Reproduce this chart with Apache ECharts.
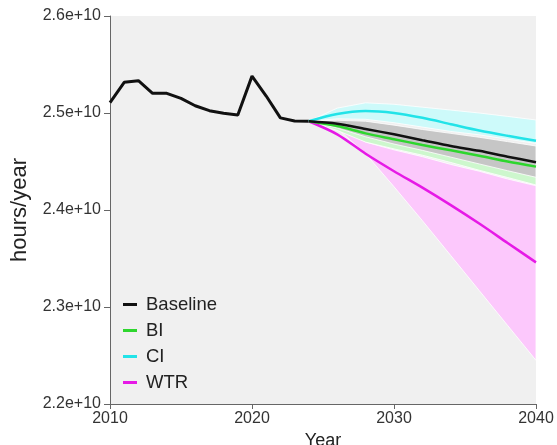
<!DOCTYPE html>
<html>
<head>
<meta charset="utf-8">
<script src="https://cdn.jsdelivr.net/npm/echarts@6/dist/echarts.min.js"></script>
<style>
  html, body { margin: 0; padding: 0; background: #fff; }
  #myChart { width: 557px; height: 445px; }
</style>
</head>
<body>
<div id="myChart"></div>
<script>
// values in units of 1e10 hours/year
var histYears = [2010, 2011, 2012, 2013, 2014, 2015, 2016, 2017, 2018, 2019, 2020, 2021, 2022, 2023, 2024];
var baselineHist = [2.5106, 2.5316, 2.5333, 2.5203, 2.5203, 2.515, 2.5075, 2.5024, 2.4997, 2.498, 2.538, 2.5175, 2.495, 2.4918, 2.4915];

var projYears = [2024, 2026, 2028, 2030, 2032, 2034, 2036, 2038, 2040];
var baselineProj = [2.4915, 2.489, 2.4835, 2.478, 2.472, 2.466, 2.461, 2.455, 2.4492];
var baselineLo = [2.4915, 2.4845, 2.4755, 2.468, 2.4615, 2.4545, 2.4475, 2.4405, 2.4337];
var baselineHi = [2.4915, 2.4925, 2.4915, 2.4875, 2.483, 2.479, 2.475, 2.4705, 2.466];

var biProj = [2.4915, 2.4865, 2.479, 2.473, 2.467, 2.4615, 2.456, 2.450, 2.4447];
var biLo = [2.4915, 2.482, 2.470, 2.463, 2.4565, 2.449, 2.441, 2.4335, 2.4258];
var biHi = [2.4915, 2.490, 2.487, 2.482, 2.477, 2.472, 2.467, 2.462, 2.457];

var ciProj = [2.4915, 2.499, 2.502, 2.500, 2.495, 2.4885, 2.482, 2.4765, 2.4714];
var ciLo = [2.4915, 2.494, 2.4935, 2.490, 2.4855, 2.481, 2.4775, 2.473, 2.4687];
var ciHi = [2.4915, 2.505, 2.5105, 2.509, 2.506, 2.503, 2.500, 2.4965, 2.4928];

var wtrProj = [2.4915, 2.478, 2.458, 2.440, 2.423, 2.405, 2.386, 2.366, 2.346];
var wtrLo = [2.4915, 2.484, 2.458, 2.424, 2.389, 2.353, 2.317, 2.281, 2.245];
var wtrHi = [2.4915, 2.486, 2.470, 2.462, 2.455, 2.447, 2.440, 2.432, 2.425];

var E10 = 1e10;
var FONT = 'Liberation Sans, Arial, Helvetica, sans-serif';

function pairs(xs, ys) {
    return xs.map(function (x, i) { return [x, ys[i] * E10]; });
}

function bandSeries(name, lo, hi, fill) {
    return {
        type: 'custom',
        name: name + ' band',
        silent: true,
        z: 1,
        data: projYears.map(function (x, i) { return [x, lo[i] * E10, hi[i] * E10]; }),
        encode: { x: 0, y: [1, 2] },
        renderItem: function (params, api) {
            if (params.dataIndex !== 0) return;
            var top = [], bottom = [];
            for (var i = 0; i < projYears.length; i++) {
                top.push(api.coord([projYears[i], hi[i] * E10]));
                bottom.unshift(api.coord([projYears[i], lo[i] * E10]));
            }
            return {
                type: 'polygon',
                shape: { points: top.concat(bottom) },
                style: { fill: fill, stroke: 'rgba(255,255,255,0.8)', lineWidth: 1 }
            };
        }
    };
}

function lineSeries(name, xs, ys, color, width, smooth) {
    return {
        type: 'line',
        name: name,
        data: pairs(xs, ys),
        showSymbol: false,
        smooth: smooth,
        z: 5,
        color: color,
        lineStyle: { color: color, width: width }
    };
}

var myChart = echarts.init(document.getElementById('myChart'));

myChart.setOption(option = {
    animation: false,
    backgroundColor: '#fff',
    grid: {
        left: 110,
        right: 21,
        top: 16,
        bottom: 41,
        outerBoundsMode: 'none',
        containLabel: false,
        show: true,
        backgroundColor: '#f0f0f0',
        borderWidth: 0
    },
    legend: {
        orient: 'vertical',
        left: 118,
        top: 290,
        icon: 'rect',
        itemWidth: 14,
        itemHeight: 3,
        itemGap: 7,
        data: ['Baseline', 'BI', 'CI', 'WTR'],
        textStyle: { fontFamily: FONT, fontSize: 18.5, color: '#222', padding: [0, 0, 0, 4] }
    },
    xAxis: {
        type: 'value',
        min: 2010,
        max: 2040,
        interval: 10,
        name: 'Year',
        nameLocation: 'middle',
        nameGap: 24,
        nameTextStyle: { fontFamily: FONT, fontSize: 18, color: '#222' },
        splitLine: { show: false },
        axisLine: { lineStyle: { color: '#666', width: 1 } },
        axisTick: { length: 5, lineStyle: { color: '#666' } },
        axisLabel: {
            fontFamily: FONT, fontSize: 16, color: '#333', margin: 7,
            formatter: function (v) { return String(v); }
        }
    },
    yAxis: {
        type: 'value',
        min: 2.2e10,
        max: 2.6e10,
        interval: 1e9,
        name: 'hours/year',
        nameLocation: 'middle',
        nameGap: 79,
        nameTextStyle: { fontFamily: FONT, fontSize: 22, color: '#222' },
        splitLine: { show: false },
        axisLine: { show: true, lineStyle: { color: '#666', width: 1 } },
        axisTick: { show: true, length: 6, lineStyle: { color: '#666' } },
        axisLabel: {
            fontFamily: FONT, fontSize: 16, color: '#333', margin: 9,
            formatter: function (v) { return (v / E10).toFixed(1) + 'e+10'; }
        }
    },
    series: [
        bandSeries('WTR', wtrLo, wtrHi, '#fcc8fc'),
        bandSeries('BI', biLo, biHi, '#cdf7cd'),
        bandSeries('Baseline', baselineLo, baselineHi, '#c6c6c6'),
        bandSeries('CI', ciLo, ciHi, '#cdfafa'),
        lineSeries('Baseline', histYears, baselineHist, '#111111', 3, false),
        lineSeries('WTR', projYears, wtrProj, '#e61ae6', 2.5, 0.3),
        lineSeries('CI', projYears, ciProj, '#22e3e8', 2.5, 0.3),
        lineSeries('BI', projYears, biProj, '#2ed62e', 2.5, 0.3),
        lineSeries('Baseline', projYears, baselineProj, '#111111', 2.5, 0.3)
    ]
});

window.onresize = function () {
    myChart.resize();
};
</script>
</body>
</html>
